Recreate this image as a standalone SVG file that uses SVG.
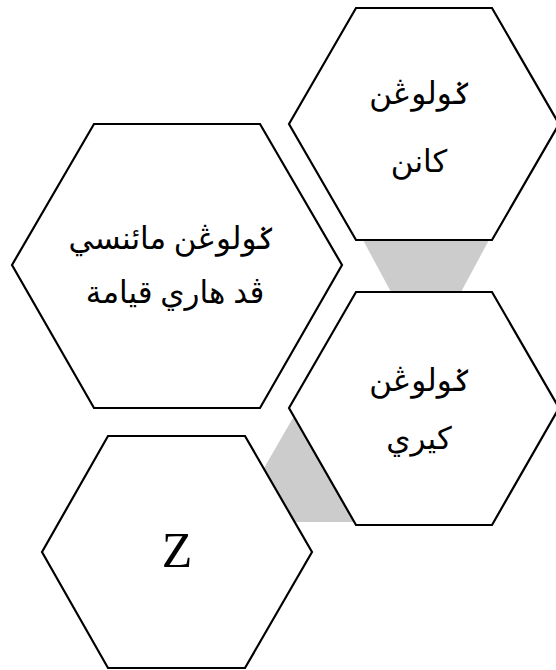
<svg xmlns="http://www.w3.org/2000/svg" width="556" height="670" viewBox="0 0 556 670">
<style>
.hex{fill:#fff;stroke:#000;stroke-width:2.2;stroke-linejoin:miter}
.con{fill:#cccccc;stroke:none}
.ar{font-family:"Liberation Serif","DejaVu Serif","DejaVu Sans",serif;font-size:31px;fill:#000;text-anchor:middle;direction:rtl}
.lt{font-family:"Liberation Serif","Times New Roman",serif;font-size:50px;fill:#000;text-anchor:middle}
</style>
<rect width="556" height="670" fill="#fff"/>
<g id="connectors">
<polygon class="con" points="363,240 489,240 461,292 391,292"/>
<polygon class="con" points="294,416 355,522 233,522"/>
</g>
<g id="node-kanan">
<polygon class="hex" points="289,124 356,8 492,8 559,124 492,240 356,240"/>
<text class="ar" x="420" y="104">ݢولوڠن</text>
<text class="ar" x="419" y="172">كانن</text>
</g>
<g id="node-manusia">
<polygon class="hex" points="12,265 94,124 260,124 342,265 260,408 94,408"/>
<text class="ar" x="172" y="249">ݢولوڠن مائنسي</text>
<text class="ar" x="175" y="303">ڤد هاري قيامة</text>
</g>
<g id="node-kiri">
<polygon class="hex" points="289,408 356,292 492,292 559,408 492,525 356,525"/>
<text class="ar" x="420" y="391">ݢولوڠن</text>
<text class="ar" x="419" y="449">كيري</text>
</g>
<g id="node-z">
<polygon class="hex" points="42,552 108,436 245,436 312,552 245,668 108,668"/>
<text class="lt" x="177" y="567">Z</text>
</g>
</svg>
